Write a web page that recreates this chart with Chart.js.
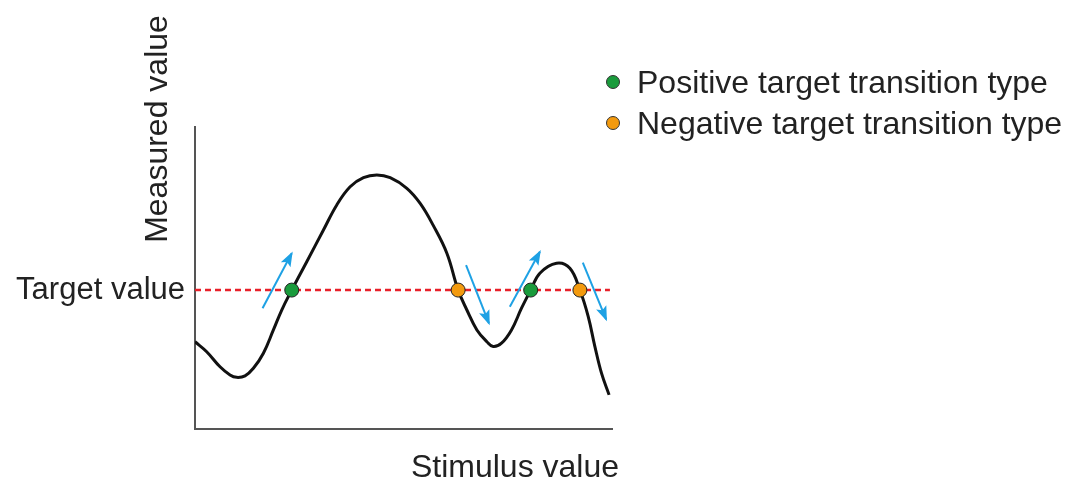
<!DOCTYPE html>
<html>
<head>
<meta charset="utf-8">
<script src="https://cdn.jsdelivr.net/npm/chart.js@4/dist/chart.umd.min.js"></script>
<style>
  html, body { margin: 0; padding: 0; background: #fff; }
  #wrap { position: relative; width: 1068px; height: 480px; }
</style>
</head>
<body>
<div id="wrap"><canvas id="chart"></canvas></div>
<script>
// values (x: stimulus 0..100, y: measured 0..100)
const TARGET = 46;
const curveX = [0, 2.8, 6.0, 8.4, 10.0, 12.0, 14.0, 16.4, 18.8, 20.8, 23.2, 26.8, 30.8, 34.0, 37.2, 40.4, 43.6, 46.8, 50.8, 54.0, 57.1, 60.4, 63.1, 65.2, 67.6, 70.0, 71.5, 73.5, 75.9, 78.3, 80.5, 82.7, 86.7, 89.9, 92.3, 94.3, 95.9, 97.5, 99.3];
const curveY = [28.9, 25.6, 20.6, 17.9, 17.1, 17.6, 20.1, 25.1, 32.8, 39.4, 46.0, 55.4, 65.9, 74.2, 80.2, 83.2, 84.1, 83.2, 79.7, 74.7, 67.5, 58.2, 46.0, 39.4, 32.8, 28.9, 27.3, 28.4, 32.8, 40.0, 46.0, 51.6, 54.9, 53.2, 46.0, 37.2, 27.3, 18.4, 11.3];
const targetLineX = [0, 99.5];
const positiveX = [23.2, 80.5];
const negativeX = [63.1, 92.3];
// arrows: [tail, head]
const arrowX = [[16.2, 23.2], [65.0, 70.5], [75.5, 82.7], [93.0, 98.6]];
const arrowY = [[40.0, 58.2], [54.3, 35.0], [40.5, 58.7], [55.1, 36.3]];
const legendLabels = ['Positive target transition type', 'Negative target transition type'];
const xTitle = 'Stimulus value';
const yTitle = 'Measured value';
const yTickLabel = 'Target value';

const FONT = '"Liberation Sans", Arial, sans-serif';
const GREEN = '#1a9b3c';
const ORANGE = '#f39a0e';
const BLUE = '#1ea1e4';

const toPts = (xs, ys) => xs.map((x, i) => ({ x, y: Array.isArray(ys) ? ys[i] : ys }));

const datasets = [
  {
    label: 'curve',
    data: toPts(curveX, curveY),
    borderColor: '#111',
    borderWidth: 3,
    pointRadius: 0,
    tension: 0.4,
    order: 3
  },
  {
    label: 'target',
    data: toPts(targetLineX, TARGET),
    borderColor: '#e8202a',
    borderWidth: 2.5,
    borderDash: [6, 4],
    pointRadius: 0,
    order: 4
  }
];
arrowX.forEach((xs, i) => {
  datasets.push({
    label: 'arrow' + i,
    isArrow: true,
    data: toPts(xs, arrowY[i]),
    borderColor: BLUE,
    borderWidth: 2,
    pointRadius: 0,
    order: 2
  });
});
datasets.push({
  label: legendLabels[0],
  data: toPts(positiveX, TARGET),
  showLine: false,
  pointRadius: 7,
  pointBackgroundColor: GREEN,
  pointBorderColor: '#222',
  pointBorderWidth: 1,
  order: 1
});
datasets.push({
  label: legendLabels[1],
  data: toPts(negativeX, TARGET),
  showLine: false,
  pointRadius: 7,
  pointBackgroundColor: ORANGE,
  pointBorderColor: '#222',
  pointBorderWidth: 1,
  order: 1
});

// arrow heads at the last point of each arrow dataset
const arrowHeads = {
  id: 'arrowHeads',
  afterDatasetsDraw(chart) {
    const ctx = chart.ctx;
    chart.data.datasets.forEach((ds, i) => {
      if (!ds.isArrow) return;
      const pts = chart.getDatasetMeta(i).data;
      const a = pts[0], b = pts[1];
      const ang = Math.atan2(b.y - a.y, b.x - a.x);
      const len = 13, half = 5.5;
      ctx.save();
      ctx.translate(b.x, b.y);
      ctx.rotate(ang);
      ctx.fillStyle = ds.borderColor;
      ctx.beginPath();
      ctx.moveTo(2, 0);
      ctx.lineTo(-len, -half);
      ctx.lineTo(-len + 3, 0);
      ctx.lineTo(-len, half);
      ctx.closePath();
      ctx.fill();
      ctx.restore();
    });
  }
};

// axis titles and legend, placed relative to the chart area
const labels = {
  id: 'labels',
  afterDraw(chart) {
    const { ctx, chartArea } = chart;
    ctx.save();
    ctx.fillStyle = '#222';
    ctx.font = '32px ' + FONT;
    ctx.textBaseline = 'alphabetic';

    ctx.textAlign = 'center';
    ctx.fillText(xTitle, chartArea.right - 97, chartArea.bottom + 48);

    ctx.save();
    ctx.translate(chartArea.left - 28, chartArea.top + 2);
    ctx.rotate(-Math.PI / 2);
    ctx.fillText(yTitle, 0, 0);
    ctx.restore();

    ctx.textAlign = 'left';
    const fills = [GREEN, ORANGE];
    legendLabels.forEach((t, i) => {
      const y = 82 + i * 41;
      ctx.beginPath();
      ctx.arc(613, y, 6.5, 0, Math.PI * 2);
      ctx.fillStyle = fills[i];
      ctx.fill();
      ctx.lineWidth = 1;
      ctx.strokeStyle = '#333';
      ctx.stroke();
      ctx.fillStyle = '#222';
      ctx.fillText(t, 637, y + 11);
    });
    ctx.restore();
  }
};

new Chart(document.getElementById('chart'), {
  type: 'line',
  data: { datasets },
  options: {
    responsive: true,
    maintainAspectRatio: false,
    animation: false,
    layout: { padding: { left: 0, top: 127, right: 456, bottom: 51 } },
    plugins: {
      legend: { display: false },
      tooltip: { enabled: false }
    },
    scales: {
      x: {
        type: 'linear',
        min: 0,
        max: 100,
        grid: { display: false, drawTicks: false },
        border: { display: true, color: '#555', width: 2 },
        ticks: { display: false },
        afterFit: (s) => { s.height = 0; }
      },
      y: {
        type: 'linear',
        min: 0,
        max: 100,
        grid: { display: false, drawTicks: false },
        border: { display: true, color: '#555', width: 2 },
        afterBuildTicks: (s) => { s.ticks = [{ value: TARGET }]; },
        ticks: {
          padding: 10,
          color: '#222',
          font: { size: 31, family: FONT },
          callback: () => yTickLabel
        },
        afterFit: (s) => { s.width = 195; }
      }
    }
  },
  plugins: [arrowHeads, labels]
});
</script>
</body>
</html>
